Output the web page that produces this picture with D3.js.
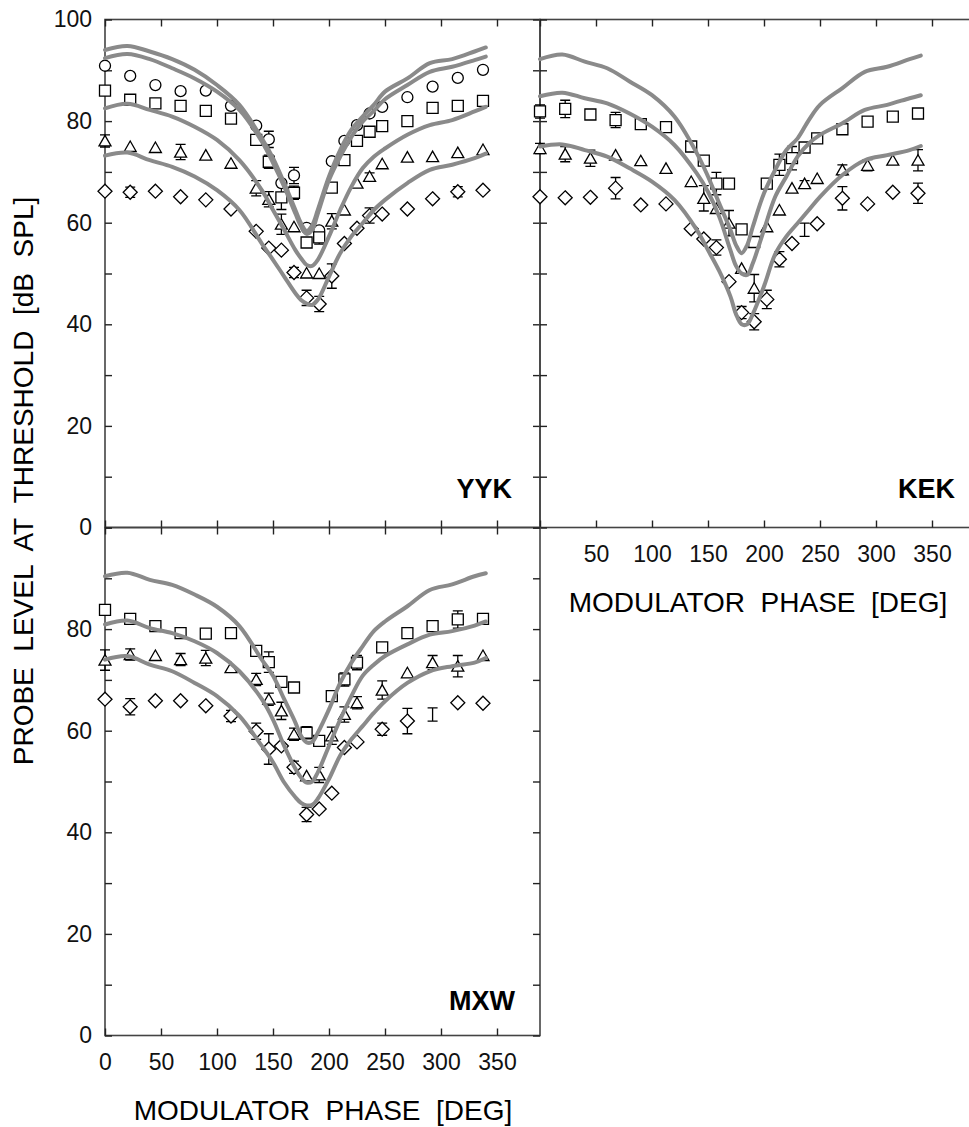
<!DOCTYPE html>
<html>
<head>
<meta charset="utf-8">
<script src="https://cdn.jsdelivr.net/npm/d3@7"></script>
<style>
  body { margin: 0; background: #fff; }
  svg { display: block; font-family: "Liberation Sans", Arial, sans-serif; }
</style>
</head>
<body>
<div id="chart"></div>
<script>
// Phases of the measured points and of the model curves
const phases = [0, 22.5, 45, 67.5, 90, 112.5, 135, 146.25, 157.5, 168.75, 180, 191.25, 202.5, 213.75, 225, 236.25, 247.5, 270, 292.5, 315, 337.5];
const curvePhases = [0, 20, 40, 60, 80, 100, 120, 140, 150, 160, 170, 175, 180, 185, 190, 200, 210, 220, 230, 240, 250, 270, 290, 310, 330, 340];
const yTicks = [0, 10, 20, 30, 40, 50, 60, 70, 80, 90, 100];
const xTicks = [0, 50, 100, 150, 200, 250, 300, 350];

// YYK data
const yykCircle    = [90.9, 88.9, 87.1, 85.9, 86.0, 83.0, 79.1, 76.4, 67.8, 69.3, 59.0, 58.5, 72.1, 76.1, 79.2, 81.5, 82.8, 84.7, 86.8, 88.5, 90.1];
const yykCircleErr = [0, 0, 0, 0, 0, 0, 0, 1.6, 0, 1.6, 0, 0, 0, 0, 0, 0, 0, 0, 0, 0, 0];
const yykSquare    = [86.0, 84.2, 83.5, 83.0, 82.0, 80.5, 76.3, 72.0, 65.0, 65.9, 56.1, 57.1, 66.9, 72.3, 76.1, 77.9, 79.0, 80.0, 82.6, 83.0, 84.0];
const yykSquareErr = [0, 0, 0, 0, 0, 0, 0, 1.3, 2.4, 1.3, 0, 1.3, 0, 0, 0, 0, 0, 0, 0, 0, 0.8];
const yykTri       = [76.1, 75.0, 74.8, 73.9, 73.3, 71.7, 66.8, 64.6, 59.7, 59.2, 50.1, 50.0, 60.3, 62.5, 67.8, 69.1, 71.6, 72.9, 73.0, 73.8, 74.4];
const yykTriErr    = [1.2, 0, 0, 1.5, 0, 0, 1.5, 1.5, 2, 0, 0, 0, 1.5, 0, 0, 0.7, 0, 0, 0, 0, 0];
const yykDia       = [66.2, 66.0, 66.2, 65.1, 64.5, 62.7, 58.3, 55.0, 54.6, 50.2, 45.2, 44.0, 49.5, 55.9, 58.9, 61.4, 61.7, 62.7, 64.7, 66.1, 66.4];
const yykDiaErr    = [0, 1, 0, 0, 0, 0, 0, 0, 0, 1, 1.5, 1.5, 2.4, 0, 0, 1.5, 0, 0, 0, 1, 0];
const yykCurveA = [94.0, 94.8, 93.7, 92.2, 90.1, 87.1, 83.2, 76.6, 72.7, 67.8, 62.5, 59.9, 58.4, 59.5, 62.5, 69.1, 74.3, 78.3, 80.9, 83.2, 85.8, 88.4, 91.4, 92.2, 93.7, 94.5];
const yykCurveB = [92.4, 93.2, 92.2, 90.4, 88.4, 85.8, 82.2, 76.0, 71.8, 67.1, 61.8, 59.3, 57.8, 58.6, 61.8, 68.4, 73.0, 76.9, 79.9, 82.0, 84.3, 87.1, 89.7, 90.7, 92.0, 92.7];
const yykCurveC = [82.5, 83.4, 82.2, 80.9, 78.9, 76.3, 72.3, 66.4, 62.5, 58.6, 54.6, 53.0, 51.7, 51.5, 52.7, 57.3, 62.5, 67.1, 70.7, 73.0, 74.6, 77.3, 79.2, 80.2, 81.9, 82.8];
const yykCurveD = [73.2, 73.8, 72.3, 71.0, 69.1, 66.4, 62.5, 55.9, 52.7, 49.4, 46.1, 44.8, 44.1, 43.8, 44.8, 49.4, 54.0, 57.3, 59.9, 62.5, 64.5, 67.8, 70.4, 71.4, 72.7, 73.6];

// KEK data
const kekSquare    = [81.9, 82.4, 81.3, 80.2, 79.4, 78.8, 75.0, 72.2, 67.7, 67.7, 58.7, 56.2, 67.7, 71.4, 72.7, 74.8, 76.6, 78.4, 79.9, 80.9, 81.5];
const kekSquareErr = [1.3, 1.7, 0, 1.5, 0, 0, 0, 0, 2.2, 0, 0, 0, 0, 2.1, 2.3, 0, 0, 0, 0, 0, 0];
const kekTri       = [74.6, 73.5, 72.7, 73.3, 72.2, 70.7, 68.1, 64.8, 62.8, 59.9, 51.0, 47.1, 59.2, 62.5, 66.8, 67.7, 68.7, 70.4, 71.3, 72.3, 72.3];
const kekTriErr    = [1, 1.5, 1.6, 0, 0, 0, 0, 2.5, 0, 2.5, 0, 2.7, 0, 0, 0, 0.6, 0, 1, 1.1, 0, 2.1];
const kekDia       = [65.1, 64.9, 65.0, 66.8, 63.5, 63.7, 58.8, 56.8, 55.1, 48.4, 42.3, 40.5, 44.9, 52.8, 55.9, 58.6, 59.8, 64.8, 63.7, 66.0, 65.8];
const kekDiaErr    = [0, 0, 0, 2.1, 0, 0, 0, 0, 1.5, 0, 1.2, 1.6, 1.8, 1.5, 0, 1.3, 0, 2.3, 0, 0, 2];
const kekDiaBarOnly = [236.25];
const kekCurveA = [92.2, 93.1, 91.7, 90.4, 87.8, 85.1, 80.9, 73.7, 69.1, 63.8, 58.6, 55.6, 54.0, 55.6, 59.2, 65.8, 70.4, 74.3, 76.6, 80.2, 83.2, 86.5, 89.7, 90.7, 92.2, 92.9];
const kekCurveB = [84.9, 85.6, 84.5, 83.5, 81.5, 78.9, 75.3, 69.7, 66.1, 61.2, 54.6, 51.5, 50.0, 49.7, 52.0, 58.6, 65.1, 69.1, 73.0, 75.6, 77.3, 79.6, 82.2, 83.2, 84.5, 85.1];
const kekCurveC = [75.0, 75.4, 74.3, 73.0, 70.7, 68.1, 64.5, 58.6, 54.6, 50.5, 45.5, 42.0, 40.0, 40.0, 42.0, 47.5, 53.8, 57.3, 59.9, 62.5, 65.1, 69.4, 72.3, 73.3, 74.3, 75.1];

// MXW data
const mxwSquare    = [83.8, 82.0, 80.6, 79.2, 79.1, 79.2, 75.7, 73.5, 69.6, 68.5, 59.6, 58.0, 66.8, 70.1, 73.4, null, 76.4, 79.2, 80.6, 81.9, 82.0];
const mxwSquareErr = [0, 0, 0, 0, 0, 0, 0, 2, 0, 0, 1.2, 0, 0, 1.3, 1.4, 0, 0, 0, 0, 1.7, 0];
const mxwTri       = [73.9, 75.0, 74.8, 74.0, 74.3, 72.4, 70.1, 66.2, 63.9, 59.3, 51.1, 51.3, 59.0, 63.2, 65.5, null, 68.0, 71.4, 73.4, 72.7, 74.8];
const mxwTriErr    = [2, 1.1, 0, 1.2, 1.5, 0, 1.2, 1.2, 1.7, 1.2, 0, 1.5, 1.7, 1.5, 1.2, 0, 1.8, 0, 1.4, 2.1, 0];
const mxwDia       = [66.2, 64.7, 65.9, 65.9, 64.9, 62.9, 59.9, 56.4, 57.0, 52.8, 43.5, 44.6, 47.7, 56.7, 57.8, null, 60.3, 61.9, 63.2, 65.5, 65.4];
const mxwDiaErr    = [0, 1.6, 0, 0, 0, 1.1, 1.6, 3, 0, 1.2, 1.4, 0, 0, 0, 0, 0, 1.2, 2.5, 1.3, 0, 0];
const mxwDiaBarOnly = [292.5];
const mxwCurveA = [90.4, 91.1, 89.7, 88.7, 86.8, 84.4, 80.6, 74.0, 70.8, 66.2, 61.6, 59.0, 57.7, 57.8, 59.6, 64.2, 69.4, 73.4, 76.6, 79.6, 81.5, 84.5, 87.7, 88.8, 90.4, 91.0];
const mxwCurveB = [80.9, 81.7, 80.2, 79.2, 77.6, 75.3, 71.7, 66.2, 62.2, 57.0, 52.5, 50.8, 49.8, 50.0, 51.8, 57.0, 62.2, 66.8, 70.8, 73.0, 74.7, 77.0, 78.9, 79.6, 80.7, 81.5];
const mxwCurveC = [74.0, 74.7, 73.0, 71.7, 69.4, 66.8, 62.9, 57.0, 53.8, 49.8, 46.9, 45.8, 45.3, 45.4, 46.6, 50.5, 55.1, 58.3, 60.9, 63.5, 65.8, 69.4, 71.7, 72.7, 73.4, 74.3];

const W = 969, H = 1127;
const panelW = 435, panelH = 508;
const xMax = 388.4;

const panels = [
  { name: "YYK", left: 105, top: 19.5, yLabels: [0, 20, 40, 60, 80, 100], xLabels: null, xTitle: false, rightTicks: true,
    series: [["circle", yykCircle, yykCircleErr, []], ["square", yykSquare, yykSquareErr, []],
             ["triangle", yykTri, yykTriErr, []], ["diamond", yykDia, yykDiaErr, []]],
    curves: [yykCurveA, yykCurveB, yykCurveC, yykCurveD], labelX: 512, labelY: 498 },
  { name: "KEK", left: 540, top: 19.5, yLabels: null, xLabels: [50, 100, 150, 200, 250, 300, 350], xTitle: true, rightTicks: false,
    series: [["square", kekSquare, kekSquareErr, []], ["triangle", kekTri, kekTriErr, []],
             ["diamond", kekDia, kekDiaErr, kekDiaBarOnly]],
    curves: [kekCurveA, kekCurveB, kekCurveC], labelX: 955, labelY: 498 },
  { name: "MXW", left: 105, top: 527.5, yLabels: [0, 20, 40, 60, 80], xLabels: xTicks, xTitle: true, rightTicks: true,
    series: [["square", mxwSquare, mxwSquareErr, []], ["triangle", mxwTri, mxwTriErr, []],
             ["diamond", mxwDia, mxwDiaErr, mxwDiaBarOnly]],
    curves: [mxwCurveA, mxwCurveB, mxwCurveC], labelX: 515, labelY: 1010 }
];

const shapes = {
  circle: d3.symbol().type(d3.symbolCircle).size(Math.PI * 5.5 * 5.5)(),
  square: "M-5.5,-5.5h11v11h-11Z",
  triangle: "M0,-5.5L6,5L-6,5Z",
  diamond: "M0,-7L7,0L0,7L-7,0Z"
};

const svg = d3.select("#chart").append("svg")
    .attr("width", W)
    .attr("height", H);

panels.forEach(p => {
  const x = d3.scaleLinear().domain([0, xMax]).range([p.left, p.left + panelW]);
  const y = d3.scaleLinear().domain([0, 100]).range([p.top + panelH, p.top]);
  const g = svg.append("g");

  // frame
  g.append("rect")
    .attr("x", x(0)).attr("y", y(100))
    .attr("width", panelW).attr("height", panelH)
    .attr("fill", "none").attr("stroke", "#444").attr("stroke-width", 1.6);

  const fmtY = d => (p.yLabels && p.yLabels.includes(d)) ? d : "";
  const fmtX = d => (p.xLabels && p.xLabels.includes(d)) ? d : "";

  const axes = [
    [d3.axisLeft(y).tickValues(yTicks).tickFormat(fmtY), x(0), 0, 13],
    [d3.axisTop(x).tickValues(xTicks).tickFormat(""), 0, y(100), 18],
    [d3.axisBottom(x).tickValues(xTicks).tickFormat(fmtX), 0, y(0), 18]
  ];
  if (p.rightTicks) axes.push([d3.axisRight(y).tickValues(yTicks).tickFormat(""), x(xMax), 0, 18]);
  axes.forEach(([ax, tx, ty, pad]) => {
    const a = g.append("g")
      .attr("transform", `translate(${tx},${ty})`)
      .call(ax.tickSize(-7).tickPadding(pad));
    a.select(".domain").remove();
    a.selectAll(".tick line").attr("stroke", "#222").attr("stroke-width", 1.4);
    a.selectAll(".tick text").attr("font-size", 23).attr("fill", "#111")
      .attr("font-family", "'Liberation Sans', Arial, sans-serif");
  });

  // error bars
  p.series.forEach(([shape, vals, errs]) => {
    const pts = phases.map((ph, i) => ({ ph, v: vals[i], e: errs[i] })).filter(d => d.v != null && d.e > 0);
    const eb = g.append("g").attr("stroke", "#000").attr("stroke-width", 1.3).attr("fill", "none");
    eb.selectAll("path").data(pts).enter().append("path")
      .attr("d", d => {
        const cx = x(d.ph), y1 = y(d.v + d.e), y2 = y(d.v - d.e);
        return `M${cx - 5},${y1}H${cx + 5}M${cx},${y1}V${y2}M${cx - 5},${y2}H${cx + 5}`;
      });
  });

  // markers
  p.series.forEach(([shape, vals, errs, barOnly]) => {
    const pts = phases.map((ph, i) => ({ ph, v: vals[i] }))
      .filter(d => d.v != null && !barOnly.includes(d.ph));
    g.append("g").selectAll("path").data(pts).enter().append("path")
      .attr("transform", d => `translate(${x(d.ph)},${y(d.v)})`)
      .attr("d", shapes[shape])
      .attr("fill", "#fff")
      .attr("stroke", "#000")
      .attr("stroke-width", 1.3);
  });

  // model curves
  const line = d3.line()
    .x((d, i) => x(curvePhases[i]))
    .y(d => y(d))
    .curve(d3.curveCatmullRom.alpha(0.5));
  g.append("g").selectAll("path").data(p.curves).enter().append("path")
    .attr("d", line)
    .attr("fill", "none")
    .attr("stroke", "#8a8a8a")
    .attr("stroke-width", 4)
    .attr("stroke-linecap", "round");

  // panel name
  g.append("text")
    .attr("x", p.labelX).attr("y", p.labelY)
    .attr("text-anchor", "end")
    .attr("font-size", 27).attr("font-weight", "bold")
    .text(p.name);

  if (p.xTitle) {
    g.append("text")
      .attr("x", x(0) + 218).attr("y", y(0) + 84)
      .attr("text-anchor", "middle")
      .attr("font-size", 28)
      .style("white-space", "pre")
      .text("MODULATOR  PHASE  [DEG]");
  }
});

// y axis title
svg.append("text")
  .attr("transform", "translate(33,481) rotate(-90)")
  .attr("text-anchor", "middle")
  .attr("font-size", 28)
  .style("white-space", "pre")
  .text("PROBE  LEVEL  AT  THRESHOLD  [dB  SPL]");
</script>
</body>
</html>
